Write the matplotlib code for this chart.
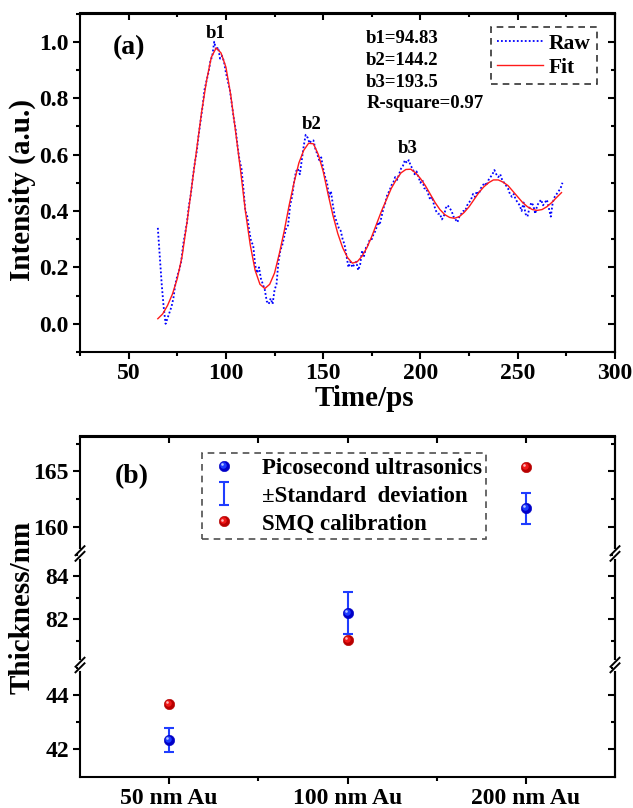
import numpy as np
import matplotlib
matplotlib.use("Agg")
import matplotlib.pyplot as plt
from matplotlib.ticker import MultipleLocator, FixedLocator, FormatStrFormatter
from matplotlib.lines import Line2D
from matplotlib.legend_handler import HandlerBase
from matplotlib.transforms import offset_copy

plt.rcParams['font.family'] = ['Liberation Serif', 'DejaVu Serif']
plt.rcParams['font.weight'] = 'bold'
plt.rcParams['axes.labelweight'] = 'bold'

# ---------------- data: panel (a) ----------------
time_raw = np.arange(65, 274, 1)
intensity_raw = [
    0.34, 0.24, 0.14, 0.06, 0.00, 0.02, 0.04, 0.06, 0.09, 0.14,   # 65-74
    0.17, 0.19, 0.22, 0.28, 0.32, 0.36, 0.42, 0.46, 0.52, 0.57,   # 75-84
    0.61, 0.67, 0.72, 0.77, 0.83, 0.86, 0.89, 0.93, 0.95, 1.00,   # 85-94
    0.97, 0.98, 0.94, 0.95, 0.93, 0.89, 0.86, 0.83, 0.78, 0.73,   # 95-104
    0.69, 0.63, 0.58, 0.55, 0.48, 0.40, 0.38, 0.33, 0.29, 0.28,   # 105-114
    0.21, 0.18, 0.20, 0.16, 0.14, 0.12, 0.08, 0.07, 0.09, 0.07,   # 115-124
    0.12, 0.14, 0.22, 0.26, 0.28, 0.31, 0.34, 0.35, 0.42, 0.45,   # 125-134
    0.50, 0.54, 0.55, 0.53, 0.58, 0.63, 0.67, 0.66, 0.64, 0.65,   # 135-144
    0.65, 0.62, 0.60, 0.58, 0.59, 0.55, 0.52, 0.50, 0.45, 0.47,   # 145-154
    0.42, 0.38, 0.36, 0.34, 0.33, 0.30, 0.28, 0.24, 0.20, 0.22,   # 155-164
    0.20, 0.21, 0.22, 0.19, 0.21, 0.26, 0.24, 0.27, 0.28, 0.30,   # 165-174
    0.30, 0.32, 0.33, 0.36, 0.35, 0.38, 0.41, 0.43, 0.46, 0.47,   # 175-184
    0.49, 0.50, 0.52, 0.51, 0.53, 0.55, 0.56, 0.58, 0.57, 0.58,   # 185-194
    0.56, 0.55, 0.53, 0.54, 0.52, 0.50, 0.51, 0.48, 0.48, 0.46,   # 195-204
    0.44, 0.45, 0.42, 0.40, 0.39, 0.39, 0.37, 0.38, 0.41, 0.42,   # 205-214
    0.41, 0.40, 0.38, 0.37, 0.36, 0.38, 0.39, 0.40, 0.40, 0.42,   # 215-224
    0.43, 0.44, 0.46, 0.45, 0.47, 0.46, 0.48, 0.49, 0.50, 0.49,   # 225-234
    0.51, 0.52, 0.53, 0.545, 0.53, 0.52, 0.53, 0.51, 0.50, 0.49,  # 235-244
    0.48, 0.46, 0.45, 0.46, 0.44, 0.43, 0.42, 0.40, 0.43, 0.39,   # 245-254
    0.38, 0.41, 0.43, 0.42, 0.39, 0.42, 0.43, 0.44, 0.42, 0.43,   # 255-264
    0.44, 0.41, 0.38, 0.43, 0.45, 0.46, 0.47, 0.48, 0.50,         # 265-273
]
time_fit = np.arange(65, 273.5, 2.5)
intensity_fit = [
    0.018, 0.035, 0.065, 0.105, 0.16, 0.24, 0.36, 0.49, 0.62, 0.75,
    0.86, 0.945, 0.978, 0.96, 0.91, 0.81, 0.68, 0.545, 0.40, 0.28,
    0.19, 0.14, 0.125, 0.14, 0.18, 0.25, 0.33, 0.42, 0.50, 0.57,
    0.615, 0.64, 0.638, 0.60, 0.54, 0.46, 0.385, 0.32, 0.27, 0.235,
    0.215, 0.22, 0.24, 0.27, 0.31, 0.355, 0.40, 0.44, 0.48, 0.51,
    0.535, 0.547, 0.548, 0.535, 0.515, 0.49, 0.46, 0.43, 0.405, 0.387,
    0.377, 0.374, 0.38, 0.395, 0.415, 0.44, 0.465, 0.485, 0.50, 0.51,
    0.51, 0.502, 0.49, 0.47, 0.45, 0.43, 0.415, 0.405, 0.402, 0.405,
    0.415, 0.43, 0.448, 0.465,
]
peak_names = ['b1', 'b2', 'b3']
peak_time = [94.83, 144.2, 193.5]
peak_label_y = [1.03, 0.708, 0.623]
fit_params = ['b1=94.83', 'b2=144.2', 'b3=193.5', 'R-square=0.97']
x_ticks_a = [50, 100, 150, 200, 250, 300]

# ---------------- data: panel (b) ----------------
samples = ['50 nm Au', '100 nm Au', '200 nm Au']
pico_thickness = [42.36, 82.30, 161.68]
pico_std = [0.44, 0.98, 1.40]
smq_thickness = [43.68, 81.02, 165.38]
seg_ranges = [(157.6, 168.15), (79.86, 85.06), (41.0, 45.1)]
seg_major = [[160, 165], [82, 84], [42, 44]]
seg_minor = [[162.5, 167.5], [81, 83, 85], [43, 45]]

W, H = 633, 808
fig = plt.figure(figsize=(W / 100, H / 100), dpi=100)

SPW = 1.5
LBL = 17


def style_ticks(a):
    a.tick_params(which='both', direction='out', width=SPW, top=False, right=False,
                  labelsize=LBL, pad=3)
    a.tick_params(which='major', length=5)
    a.tick_params(which='minor', length=3)
    for s in a.spines.values():
        s.set_linewidth(SPW)


# ================= panel (a) =================
ax = fig.add_axes([80 / W, 1 - 352 / H, 535 / W, 338.5 / H])
ax.plot(time_raw, intensity_raw, ls=(0, (1, 1.2)), color='#0000ff', lw=1.3, label='Raw')
ax.plot(time_fit, intensity_fit, ls='-', color='#ff1a1a', lw=1.0, label='Fit')
ax.set_xlim(25, 300)
ax.set_ylim(-0.1, 1.1)
ax.xaxis.set_major_locator(FixedLocator(x_ticks_a))
ax.xaxis.set_minor_locator(MultipleLocator(25))
ax.yaxis.set_major_locator(MultipleLocator(0.2))
ax.yaxis.set_minor_locator(MultipleLocator(0.1))
ax.yaxis.set_major_formatter(FormatStrFormatter('%.1f'))
style_ticks(ax)

secx = ax.secondary_xaxis('top')
secx.xaxis.set_major_locator(FixedLocator(x_ticks_a))
secx.xaxis.set_minor_locator(MultipleLocator(25))
secx.tick_params(which='both', direction='in', labeltop=False, width=SPW)
secx.tick_params(which='major', length=5)
secx.tick_params(which='minor', length=3)
secx.spines['top'].set_linewidth(SPW)
secy = ax.secondary_yaxis('right')
secy.yaxis.set_major_locator(MultipleLocator(0.2))
secy.yaxis.set_minor_locator(MultipleLocator(0.1))
secy.tick_params(which='both', direction='in', labelright=False, width=SPW)
secy.tick_params(which='major', length=5)
secy.tick_params(which='minor', length=3)
secy.spines['right'].set_linewidth(SPW)

for name, tx, ty in zip(peak_names, peak_time, peak_label_y):
    ax.text(tx, ty, name, ha='center', va='center', fontsize=13.5, fontweight='bold')

row_y = [0.925, 0.861, 0.797, 0.733]
for txt, yy in zip(fit_params, row_y):
    ax.text(0.535, yy, txt, transform=ax.transAxes, ha='left', va='center',
            fontsize=13.5, fontweight='bold')

ax.text(0.062, 0.898, '(a)', transform=ax.transAxes, ha='left', va='center',
        fontsize=20, fontweight='bold')

leg_a = ax.legend(loc='upper right', bbox_to_anchor=(0.967, 0.96), fontsize=15.5,
                  frameon=True, fancybox=False, edgecolor='black', handlelength=2.1,
                  handletextpad=0.3, borderpad=0.3, labelspacing=0.2,
                  borderaxespad=0)
leg_a.get_frame().set_linestyle((0, (4, 3)))
leg_a.get_frame().set_linewidth(1.2)

fig.text(22 / W, 1 - 190 / H, 'Intensity (a.u.)', rotation=90, ha='center', va='center',
         fontsize=21, fontweight='bold')
fig.text(364 / W, 1 - 398 / H, 'Time/ps', ha='center', va='center',
         fontsize=21, fontweight='bold')

# ================= panel (b) =================
seg_px = [(436.5, 553.5), (553.5, 665.0), (665.0, 776.7)]
xpos = np.arange(1, len(samples) + 1)

blue_cols = ('#0000c8', '#1c3cff', '#b8c6ff')
red_cols = ('#b80000', '#f01818', '#ffb8b8')


def spheres(a, xs, ys, cols, size=7.5):
    a.plot(xs, ys, 'o', ls='none', ms=size, mfc=cols[0], mec=cols[0], mew=0.4, zorder=3)
    a.plot(xs, ys, 'o', ls='none', ms=size * 0.62, mfc=cols[1], mec='none', zorder=4,
           transform=offset_copy(a.transData, fig=fig, x=-0.7, y=0.7, units='points'))
    a.plot(xs, ys, 'o', ls='none', ms=size * 0.25, mfc=cols[2], mec='none', zorder=5,
           transform=offset_copy(a.transData, fig=fig, x=-1.3, y=1.3, units='points'))


class SphereHandler(HandlerBase):
    def __init__(self, cols, size=7.5):
        super().__init__()
        self.cols = cols
        self.size = size

    def create_artists(self, legend, orig_handle, xdescent, ydescent, width, height,
                       fontsize, trans):
        cx = -xdescent + width / 2
        cy = -ydescent + height / 2
        s = self.size
        a1 = Line2D([cx], [cy], marker='o', ls='none', ms=s, mfc=self.cols[0],
                    mec=self.cols[0], mew=0.4, transform=trans)
        a2 = Line2D([cx - 0.7], [cy + 0.7], marker='o', ls='none', ms=s * 0.62,
                    mfc=self.cols[1], mec='none', transform=trans)
        a3 = Line2D([cx - 1.3], [cy + 1.3], marker='o', ls='none', ms=s * 0.25,
                    mfc=self.cols[2], mec='none', transform=trans)
        return [a1, a2, a3]


seg_axes = []
eb_handle = None
for i, ((top, bot), rng) in enumerate(zip(seg_px, seg_ranges)):
    a = fig.add_axes([80 / W, 1 - bot / H, 535 / W, (bot - top) / H])
    seg_axes.append(a)
    eb = a.errorbar(xpos, pico_thickness, yerr=pico_std, fmt='none', ecolor='#1f3dff',
                    elinewidth=1.5, capsize=3.5, capthick=1.5, zorder=2)
    if eb_handle is None:
        eb_handle = eb
    spheres(a, xpos, pico_thickness, blue_cols)
    spheres(a, xpos, smq_thickness, red_cols)
    a.set_xlim(0.5, 3.5)
    a.set_ylim(*rng)
    a.yaxis.set_major_locator(FixedLocator(seg_major[i]))
    a.yaxis.set_minor_locator(FixedLocator(seg_minor[i]))
    style_ticks(a)
    sy = a.secondary_yaxis('right')
    sy.yaxis.set_major_locator(FixedLocator(seg_major[i]))
    sy.yaxis.set_minor_locator(FixedLocator(seg_minor[i]))
    sy.tick_params(which='both', direction='in', labelright=False, width=SPW)
    sy.tick_params(which='major', length=5)
    sy.tick_params(which='minor', length=3)
    sy.spines['right'].set_linewidth(SPW)
    if i > 0:
        a.spines['top'].set_visible(False)
    if i < 2:
        a.spines['bottom'].set_visible(False)
        a.tick_params(which='both', bottom=False, labelbottom=False)
    else:
        a.set_xticks(xpos)
        a.set_xticklabels(samples)
        a.xaxis.set_minor_locator(FixedLocator([1.5, 2.5]))
    if i == 0:
        sx = a.secondary_xaxis('top')
        sx.xaxis.set_major_locator(FixedLocator([1, 2, 3]))
        sx.xaxis.set_minor_locator(FixedLocator([1.5, 2.5]))
        sx.tick_params(which='both', direction='in', labeltop=False, width=SPW)
        sx.tick_params(which='major', length=5)
        sx.tick_params(which='minor', length=5)
        sx.spines['top'].set_linewidth(SPW)

ax_b = seg_axes[0]
ax_b.text(0.065, 0.656, '(b)', transform=ax_b.transAxes, ha='left', va='center',
          fontsize=20, fontweight='bold')

h_blue = Line2D([], [], ls='none')
h_red = Line2D([], [], ls='none')
leg_b = ax_b.legend([h_blue, eb_handle, h_red],
                    ['Picosecond ultrasonics', '\u00b1Standard  deviation', 'SMQ calibration'],
                    handler_map={h_blue: SphereHandler(blue_cols), h_red: SphereHandler(red_cols)},
                    loc='upper left', bbox_to_anchor=(0.228, 0.859), fontsize=16.5,
                    frameon=True, fancybox=False, edgecolor='#222222', handlelength=1.5,
                    handletextpad=0.9, borderpad=0.2, labelspacing=0.3, borderaxespad=0)
leg_b.get_frame().set_linestyle((0, (4, 3)))
leg_b.get_frame().set_linewidth(1.2)
leg_b.set_zorder(10)

fig.text(22 / W, 1 - 607 / H, 'Thickness/nm', rotation=90, ha='center', va='center',
         fontsize=21, fontweight='bold')


# break marks on left and right spines
def break_mark(xp, yp):
    Y = H - yp
    fx = lambda v: v / W
    fy = lambda v: v / H
    fig.add_artist(Line2D([fx(xp), fx(xp)], [fy(Y - 2.8), fy(Y + 2.8)], color='white',
                          lw=3.5, transform=fig.transFigure, zorder=20, clip_on=False))
    for off in (-2.8, 2.8):
        fig.add_artist(Line2D([fx(xp - 4.5), fx(xp + 4.5)], [fy(Y + off - 4.5), fy(Y + off + 4.5)],
                              color='black', lw=1.4, transform=fig.transFigure, zorder=21,
                              clip_on=False))


for yb in (553.5, 665.0):
    for xb in (80, 615):
        break_mark(xb, yb)

fig.savefig('out.png', dpi=100)
